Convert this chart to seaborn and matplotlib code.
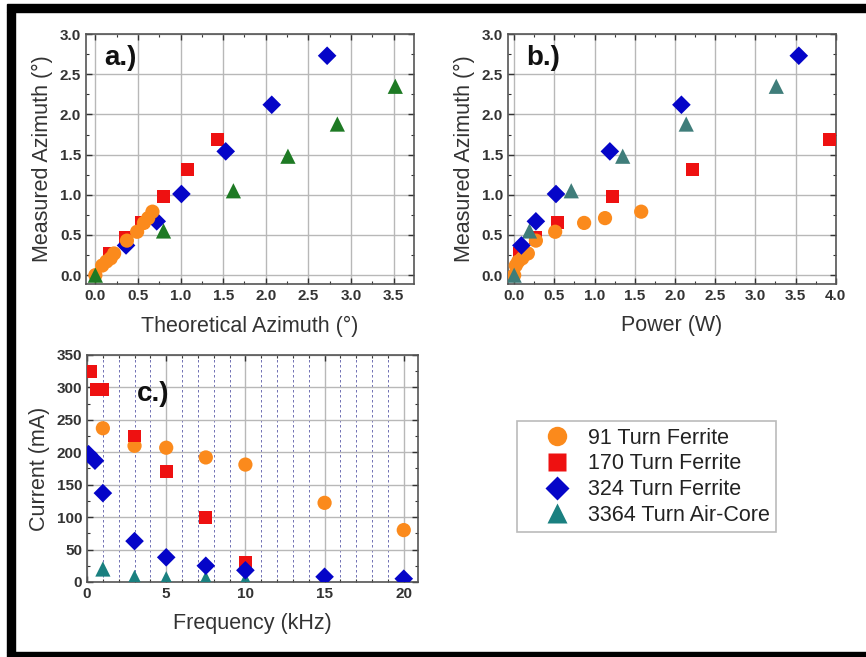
import numpy as np
import pandas as pd
import matplotlib
matplotlib.use('Agg')
import matplotlib.pyplot as plt
from matplotlib.patches import Rectangle
from matplotlib.lines import Line2D
from matplotlib.ticker import MultipleLocator, FormatStrFormatter
import seaborn as sns

# --- data ---
names = ['91 Turn Ferrite', '170 Turn Ferrite', '324 Turn Ferrite', '3364 Turn Air-Core']

# measured azimuth (deg), shared by panels a and b
meas_91 = [0.0, 0.12, 0.17, 0.21, 0.27, 0.43, 0.54, 0.65, 0.71, 0.79]
meas_170 = [0.27, 0.47, 0.66, 0.98, 1.31, 1.69]
meas_324 = [0.37, 0.67, 1.01, 1.54, 2.12, 2.73]
meas_3364 = [0.0, 0.55, 1.05, 1.48, 1.88, 2.35]

# panel a: theoretical azimuth (deg)
theo_91 = [0.0, 0.08, 0.13, 0.18, 0.22, 0.37, 0.49, 0.57, 0.62, 0.67]
theo_170 = [0.16, 0.35, 0.54, 0.80, 1.08, 1.43]
theo_324 = [0.36, 0.72, 1.01, 1.53, 2.07, 2.72]
theo_3364 = [0.0, 0.80, 1.62, 2.26, 2.84, 3.52]

# panel b: power (W)
pow_91 = [0.0, 0.02, 0.05, 0.10, 0.17, 0.27, 0.51, 0.87, 1.13, 1.58]
pow_170 = [0.07, 0.27, 0.54, 1.22, 2.22, 3.92]
pow_324 = [0.09, 0.27, 0.52, 1.19, 2.08, 3.54]
pow_3364 = [0.0, 0.19, 0.71, 1.35, 2.14, 3.26]

# panel c: current (mA) vs frequency (kHz)
freq_91 = [1, 3, 5, 7.5, 10, 15, 20]
cur_91 = [237, 210, 207, 192, 181, 122, 80]
freq_170 = [0.2, 0.6, 1.0, 3, 5, 7.5, 10]
cur_170 = [325, 297, 297, 225, 170, 99, 30]
freq_324 = [0.1, 0.5, 1, 3, 5, 7.5, 10, 15, 20]
cur_324 = [197, 187, 137, 63, 38, 25, 18, 8, 5]
freq_3364 = [1, 3, 5, 7.5, 10]
cur_3364 = [20, 7, 5, 5, 3]

c_orange = '#fb8a1c'
c_red = '#ee1111'
c_blue = '#0505c8'
c_green_a = '#1e7a24'
c_green_b = '#3f7d7a'
c_teal = '#1a8080'

sns.set_style('ticks')
plt.rcParams['font.family'] = ['Liberation Sans', 'DejaVu Sans']

fig = plt.figure(figsize=(8.66, 6.57), dpi=100)

ax_a = fig.add_axes([0.0993, 0.5677, 0.3788, 0.3805])
ax_b = fig.add_axes([0.5863, 0.5677, 0.3788, 0.3805])
ax_c = fig.add_axes([0.1005, 0.1142, 0.3822, 0.3455])

def scat(ax, x, y, marker, color, s, z):
    sns.scatterplot(x=x, y=y, marker=marker, color=color, s=s,
                    edgecolor='none', linewidth=0, ax=ax, zorder=z, legend=False)

# panel a
scat(ax_a, theo_170, meas_170, 's', c_red, 85, 3)
scat(ax_a, theo_324, meas_324, 'D', c_blue, 90, 4)
scat(ax_a, theo_91, meas_91, 'o', c_orange, 105, 5)
scat(ax_a, theo_3364, meas_3364, '^', c_green_a, 120, 6)

# panel b
scat(ax_b, pow_170, meas_170, 's', c_red, 85, 3)
scat(ax_b, pow_91, meas_91, 'o', c_orange, 105, 4)
scat(ax_b, pow_3364, meas_3364, '^', c_green_b, 120, 5)
scat(ax_b, pow_324, meas_324, 'D', c_blue, 90, 6)

# panel c
scat(ax_c, freq_91, cur_91, 'o', c_orange, 105, 3)
scat(ax_c, freq_170, cur_170, 's', c_red, 85, 4)
scat(ax_c, freq_3364, cur_3364, '^', c_teal, 120, 5)
scat(ax_c, freq_324, cur_324, 'D', c_blue, 90, 6)

tick_kw = dict(direction='in', top=True, right=True, colors='#333333')
label_fs = 15.5

for ax, xmin, xmax, xlab, lab in [(ax_a, -0.11, 3.74, 'Theoretical Azimuth (\u00b0)', 'a.)'),
                                  (ax_b, -0.08, 4.0, 'Power (W)', 'b.)')]:
    ax.set_xlim(xmin, xmax)
    ax.set_ylim(-0.11, 3.0)
    ax.xaxis.set_major_locator(MultipleLocator(0.5))
    ax.xaxis.set_minor_locator(MultipleLocator(0.25))
    ax.yaxis.set_major_locator(MultipleLocator(0.5))
    ax.yaxis.set_minor_locator(MultipleLocator(0.25))
    ax.xaxis.set_major_formatter(FormatStrFormatter('%.1f'))
    ax.yaxis.set_major_formatter(FormatStrFormatter('%.1f'))
    ax.grid(True, which='major', color='#b8b8b8', lw=1.0, zorder=0)
    ax.set_xlabel(xlab, fontsize=label_fs, color='#333333', labelpad=9)
    ax.set_ylabel('Measured Azimuth (\u00b0)', fontsize=label_fs, color='#333333', labelpad=5)
    ax.text(0.055, 0.905, lab, transform=ax.transAxes, fontsize=20,
            fontweight='bold', va='center', ha='left', color='#111111', zorder=10)

ax_c.set_xlim(0, 20.9)
ax_c.set_ylim(0, 350)
ax_c.xaxis.set_major_locator(MultipleLocator(5))
ax_c.xaxis.set_minor_locator(MultipleLocator(1))
ax_c.yaxis.set_major_locator(MultipleLocator(50))
ax_c.yaxis.set_minor_locator(MultipleLocator(25))
ax_c.grid(True, which='major', color='#b8b8b8', lw=1.0, zorder=0)
ax_c.grid(True, which='minor', axis='x', color='#5a5aa8', lw=0.6, ls=(0, (3, 3)), zorder=0)
ax_c.set_xlabel('Frequency (kHz)', fontsize=label_fs, color='#333333', labelpad=9)
ax_c.set_ylabel('Current (mA)', fontsize=label_fs, color='#333333', labelpad=5)
ax_c.text(0.15, 0.83, 'c.)', transform=ax_c.transAxes, fontsize=20,
          fontweight='bold', va='center', ha='left', color='#111111', zorder=10)

for ax in (ax_a, ax_b, ax_c):
    ax.tick_params(which='major', length=4, width=1, labelsize=11, **tick_kw)
    ax.tick_params(which='minor', length=2, width=0.8, **tick_kw)
    for lbl in ax.get_xticklabels() + ax.get_yticklabels():
        lbl.set_fontweight('bold')
        lbl.set_color('#333333')
    for sp in ax.spines.values():
        sp.set_color('#555555')
        sp.set_linewidth(1.2)

# legend
handles = [
    Line2D([], [], ls='none', marker='o', color=c_orange, ms=14, mec='none'),
    Line2D([], [], ls='none', marker='s', color=c_red, ms=12.5, mec='none'),
    Line2D([], [], ls='none', marker='D', color=c_blue, ms=12, mec='none'),
    Line2D([], [], ls='none', marker='^', color=c_teal, ms=15, mec='none'),
]
leg = fig.legend(handles, names, loc='upper left', bbox_to_anchor=(0.597, 0.359),
                 fontsize=15.5, frameon=True, fancybox=False, edgecolor='#aaaaaa',
                 borderaxespad=0, handletextpad=-0.1, labelspacing=0.22,
                 borderpad=0.3, handlelength=3.1)
leg.get_frame().set_linewidth(1.2)
for t in leg.get_texts():
    t.set_color('#222222')

# black frame around the figure (top, left, bottom)
W, H = 866, 657
fig.patches.append(Rectangle((7 / W, 1 - 12 / H), 1 - 7 / W, 8 / H,
                             transform=fig.transFigure, color='black', zorder=20))
fig.patches.append(Rectangle((7 / W, 5 / H), 8 / W, 1 - 17 / H,
                             transform=fig.transFigure, color='black', zorder=20))
fig.patches.append(Rectangle((7 / W, 0), 1 - 7 / W, 5 / H,
                             transform=fig.transFigure, color='black', zorder=20))

fig.savefig('out.png', dpi=100, facecolor='white')
